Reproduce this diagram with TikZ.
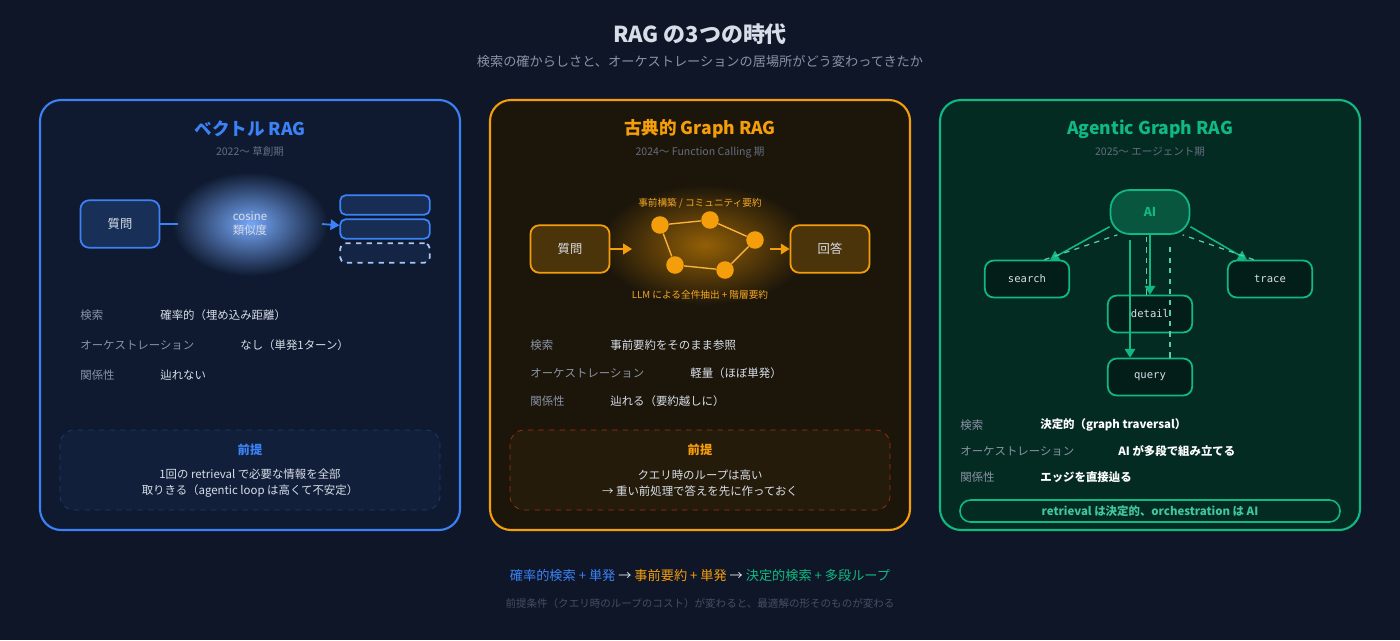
\documentclass[tikz,border=0pt]{standalone}
\usepackage{fontspec}
\setmainfont{Noto Sans CJK JP}
\newfontfamily\monof{DejaVu Sans Mono}
\usetikzlibrary{arrows.meta,positioning}
\definecolor{bgc}{HTML}{0E1628}
\definecolor{bluec}{HTML}{3B82F6}
\definecolor{bluefill}{HTML}{0F1A30}
\definecolor{orangec}{HTML}{F59E0B}
\definecolor{orangefill}{HTML}{1C160A}
\definecolor{greenc}{HTML}{10B981}
\definecolor{greenfill}{HTML}{042B22}
\definecolor{greyt}{HTML}{8A93A6}
\definecolor{lightt}{HTML}{D8DEE8}
\tikzset{
  panel/.style={draw=#1, line width=1.2pt, rounded corners=12},
  box/.style={draw=#1, line width=1pt, rounded corners=5, inner sep=0pt},
  lbl/.style={anchor=west, inner sep=0pt, text=greyt, font=\fontsize{6.5}{8}\selectfont},
  val/.style={anchor=west, inner sep=0pt, text=lightt, font=\fontsize{6.5}{8}\selectfont},
  ptitle/.style={font=\fontsize{10}{12}\selectfont\bfseries, text=#1},
  psub/.style={font=\fontsize{6}{7}\selectfont, text=greyt!70!bgc},
  gnode/.style={circle, fill=orangec, minimum size=10pt, inner sep=0pt},
  row/.style={draw=#1, line width=1pt, rounded corners=3, fill=bluec!18!bluefill, minimum width=51pt, minimum height=11pt, inner sep=0pt},
  mono/.style={box=greenc, fill=black!30!greenfill, minimum width=48pt, minimum height=21pt, font=\monof\fontsize{6}{7}\selectfont, text=lightt},
}
\begin{document}
\begin{tikzpicture}[x=0.02cm, y=-0.02cm]
  \fill[bgc] (0,0) rectangle (1400,640);
  \useasboundingbox (0,0) rectangle (1400,640);
  % titles
  \node[font=\fontsize{12.5}{14}\selectfont\bfseries, text=lightt] (title) at (700,34) {RAG の3つの時代};
  \node[font=\fontsize{7.5}{9}\selectfont, text=greyt] (subtitle) at (700,61) {検索の確からしさと、オーケストレーションの居場所がどう変わってきたか};

  % panels
  \filldraw[panel=bluec, fill=bluefill] (40,100) rectangle (460,530);
  \filldraw[panel=orangec, fill=orangefill] (490,100) rectangle (910,530);
  \filldraw[panel=greenc, fill=greenfill] (940,100) rectangle (1360,530);

  \node[ptitle=bluec] (t1) at (250,129) {ベクトル RAG};
  \node[psub] (s1) at (250,152) {2022〜 草創期};
  \node[ptitle=orangec] (t2) at (700,129) {古典的 Graph RAG};
  \node[psub] (s2) at (700,152) {2024〜 Function Calling 期};
  \node[ptitle=greenc] (t3) at (1150,129) {Agentic Graph RAG};
  \node[psub] (s3) at (1150,152) {2025〜 エージェント期};

  % vector RAG
  \shade[inner color=bluec!70, outer color=bluefill] (250,224) ellipse (78 and 52);
  \node[box=bluec, fill=bluec!20!bluefill, minimum width=45pt, minimum height=27pt, text=lightt, font=\fontsize{7}{8}\selectfont] (q1) at (120,224) {質問};
  \node[align=center, text=lightt, font=\fontsize{6.5}{8}\selectfont] (cos) at (250,224) {cosine\\類似度};
  \node[row=bluec] (r1) at (385,205) {};
  \node[row=bluec] (r2) at (385,229) {};
  \node[row=bluec!45, dashed, fill=bluec!10!bluefill] (r3) at (385,253) {};
  \coordinate (c1) at (178,224);
  \coordinate (c2) at (322,224);
  \draw[bluec, line width=1pt] (q1) -- (c1);
  \draw[bluec, line width=1pt, -{Triangle[length=5pt,width=6pt]}] (c2) -- (r2);

  \node[lbl] (l11) at (80,315) {検索};
  \node[val] (v11) at (160,315) {確率的（埋め込み距離）};
  \node[lbl] (l12) at (80,345) {オーケストレーション};
  \node[val] (v12) at (240,345) {なし（単発1ターン）};
  \node[lbl] (l13) at (80,375) {関係性};
  \node[val] (v13) at (160,375) {辿れない};

  \filldraw[draw=bluec!35!bgc, dashed, fill=bluec!5!bluefill, rounded corners=8] (60,430) rectangle (440,510);
  \node[font=\fontsize{7}{8}\selectfont\bfseries, text=bluec] (p1) at (250,450) {前提};
  \node[align=center, text=lightt, font=\fontsize{6.5}{9}\selectfont] (pt1) at (250,483) {1回の retrieval で必要な情報を全部\\取りきる（agentic loop は高くて不安定）};

  % classic graph RAG
  \shade[inner color=orangec!60!black, outer color=orangefill] (705,245) ellipse (105 and 60);
  \node[box=orangec, fill=orangec!22!orangefill, minimum width=45pt, minimum height=27pt, text=lightt, font=\fontsize{7}{8}\selectfont] (q2) at (570,249) {質問};
  \node[box=orangec, fill=orangec!22!orangefill, minimum width=45pt, minimum height=27pt, text=lightt, font=\fontsize{7}{8}\selectfont] (a2) at (830,249) {回答};
  \node[gnode] (g1) at (660,225) {};
  \node[gnode] (g2) at (710,220) {};
  \node[gnode] (g3) at (755,240) {};
  \node[gnode] (g4) at (725,270) {};
  \node[gnode] (g5) at (675,265) {};
  \draw[orangec!80, line width=0.8pt] (g1) -- (g2) -- (g3) -- (g4) -- (g5) -- (g1);
  \node[text=orangec!90!white, font=\fontsize{5.5}{7}\selectfont] (gt) at (700,203) {事前構築 / コミュニティ要約};
  \node[text=orangec!90!white, font=\fontsize{5.5}{7}\selectfont] (gb) at (700,295) {LLM による全件抽出 + 階層要約};
  \coordinate (c3) at (632,249);
  \coordinate (c4) at (770,249);
  \draw[orangec, line width=1pt, -{Triangle[length=5pt,width=6pt]}] (q2) -- (c3);
  \draw[orangec, line width=1pt, -{Triangle[length=5pt,width=6pt]}] (c4) -- (a2);

  \node[lbl] (l21) at (530,345) {検索};
  \node[val] (v21) at (610,345) {事前要約をそのまま参照};
  \node[lbl] (l22) at (530,373) {オーケストレーション};
  \node[val] (v22) at (690,373) {軽量（ほぼ単発）};
  \node[lbl] (l23) at (530,401) {関係性};
  \node[val] (v23) at (610,401) {辿れる（要約越しに）};

  \filldraw[draw=orangec!45!red!60!bgc, dashed, fill=orangec!4!orangefill, rounded corners=8] (510,430) rectangle (890,510);
  \node[font=\fontsize{7}{8}\selectfont\bfseries, text=orangec] (p2) at (700,450) {前提};
  \node[align=center, text=lightt, font=\fontsize{6.5}{9}\selectfont] (pt2) at (700,483) {クエリ時のループは高い\\→ 重い前処理で答えを先に作っておく};

  % agentic graph RAG
  \node[box=greenc, rounded corners=11, fill=greenc!30!greenfill, minimum width=45pt, minimum height=25pt, text=greenc, font=\fontsize{7}{8}\selectfont\bfseries] (ai) at (1150,212) {AI};
  \node[mono] (search) at (1027,279) {search};
  \node[mono] (trace) at (1270,279) {trace};
  \node[mono] (detail) at (1150,314) {detail};
  \node[mono] (query) at (1150,377) {query};
  \draw[greenc, line width=0.9pt, -{Triangle[length=5pt,width=6pt]}] (ai.200) -- (search.40);
  \draw[greenc!70, dashed, line width=0.7pt] (search.48) -- (ai.215);
  \draw[greenc, line width=0.9pt, -{Triangle[length=5pt,width=6pt]}] (ai.-20) -- (trace.140);
  \draw[greenc!70, dashed, line width=0.7pt] (trace.130) -- (ai.-35);
  \draw[greenc, line width=0.9pt, -{Triangle[length=5pt,width=6pt]}] (ai.south) -- (detail.north);
  \draw[greenc!70, dashed, line width=0.7pt] ([xshift=-2]detail.north) -- ([xshift=-2]ai.south);
  \coordinate (c5) at (1130,240);
  \coordinate (c6) at (1170,245);
  \draw[greenc, line width=0.9pt, -{Triangle[length=5pt,width=6pt]}] (c5) -- (c5 |- query.north);
  \draw[greenc!70, dashed, line width=0.7pt] (c6 |- query.north) -- (c6);

  \node[lbl] (l31) at (960,425) {検索};
  \node[val, font=\fontsize{6.5}{8}\selectfont\bfseries, text=white] (v31) at (1040,425) {決定的（graph traversal）};
  \node[lbl] (l32) at (960,451) {オーケストレーション};
  \node[val, font=\fontsize{6.5}{8}\selectfont\bfseries, text=white] (v32) at (1118,451) {AI が多段で組み立てる};
  \node[lbl] (l33) at (960,477) {関係性};
  \node[val, font=\fontsize{6.5}{8}\selectfont\bfseries, text=white] (v33) at (1040,477) {エッジを直接辿る};
  \draw[greenc, line width=0.9pt, rounded corners=6] (960,500) rectangle (1340,522);
  \node[text=greenc!80!white, font=\fontsize{6.5}{8}\selectfont\bfseries] (pt3) at (1150,511) {retrieval は決定的、orchestration は AI};

  % footer
  \node[font=\fontsize{7.5}{9}\selectfont] (foot) at (700,575) {\textcolor{bluec}{確率的検索 + 単発} \textcolor{lightt}{→} \textcolor{orangec}{事前要約 + 単発} \textcolor{lightt}{→} \textcolor{greenc}{決定的検索 + 多段ループ}};
  \node[font=\fontsize{6}{7}\selectfont, text=greyt!45!bgc] (foot2) at (700,603) {前提条件（クエリ時のループのコスト）が変わると、最適解の形そのものが変わる};
\end{tikzpicture}
\end{document}
